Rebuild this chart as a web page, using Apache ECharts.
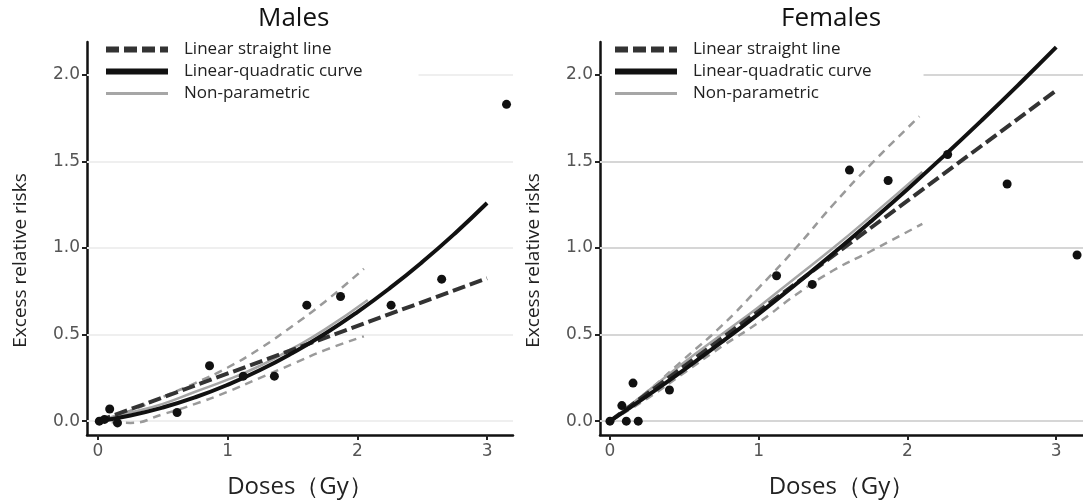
<!DOCTYPE html>
<html><head><meta charset="utf-8">
<script src="https://cdn.jsdelivr.net/npm/echarts@6.0.0/dist/echarts.min.js"></script>
<style>html,body{margin:0;padding:0;background:#fff}#c{width:1083px;height:504px}</style>
</head><body><div id="c"></div>
<script>
// ---- data ----
const panelTitles = ['Males', 'Females'];
const legendNames = ['Linear straight line', 'Linear-quadratic curve', 'Non-parametric'];
const xTicks = [0, 1, 2, 3];
const yTicks = [0, 0.5, 1.0, 1.5, 2.0];

const maleDose = [0.01, 0.05, 0.09, 0.15, 0.61, 0.86, 1.12, 1.36, 1.61, 1.87, 2.26, 2.65, 3.15];
const maleErr  = [0.0, 0.01, 0.07, -0.01, 0.05, 0.32, 0.26, 0.26, 0.67, 0.72, 0.67, 0.82, 1.83];
const femDose  = [0.0, 0.08, 0.11, 0.155, 0.19, 0.40, 1.12, 1.36, 1.61, 1.87, 2.27, 2.67, 3.14];
const femErr   = [0.0, 0.09, 0.0, 0.22, 0.0, 0.18, 0.84, 0.79, 1.45, 1.39, 1.54, 1.37, 0.96];

const lqDose   = [0, 0.25, 0.5, 0.75, 1, 1.25, 1.5, 1.75, 2, 2.25, 2.5, 2.75, 3];
const maleLQ   = [0, 0.033, 0.079, 0.138, 0.21, 0.295, 0.394, 0.505, 0.63, 0.768, 0.919, 1.083, 1.26];
const femLQ    = [0, 0.146, 0.298, 0.456, 0.62, 0.791, 0.968, 1.151, 1.34, 1.536, 1.738, 1.946, 2.16];

const linDose  = [0, 3];
const maleLin  = [0, 0.825];
const femLin   = [0, 1.91];

const maleNPDose = [0, 0.25, 0.5, 0.75, 1, 1.25, 1.5, 1.75, 2.08];
const maleNP     = [0, 0.05, 0.10, 0.17, 0.24, 0.32, 0.42, 0.53, 0.70];
const maleCIDose = [0, 0.25, 0.5, 0.75, 1, 1.25, 1.5, 1.75, 2.05];
const maleUpper  = [0, 0.06, 0.14, 0.22, 0.31, 0.42, 0.55, 0.69, 0.88];
const maleLower  = [0, -0.01, 0.04, 0.10, 0.17, 0.25, 0.33, 0.41, 0.49];

const femNPDose = [0, 0.25, 0.5, 0.75, 1, 1.25, 1.5, 1.75, 2.1];
const femNP     = [0, 0.17, 0.34, 0.50, 0.66, 0.83, 1.00, 1.18, 1.44];
const femUpDose = [0, 0.25, 0.5, 0.75, 1, 1.25, 1.5, 1.75, 2.08];
const femUpper  = [0, 0.17, 0.36, 0.55, 0.77, 1.0, 1.25, 1.48, 1.76];
const femLoDose = [0, 0.25, 0.5, 0.75, 1, 1.25, 1.5, 1.75, 2.1];
const femLower  = [0, 0.13, 0.28, 0.43, 0.57, 0.73, 0.87, 0.98, 1.14];

// ---- build ----
const zip = (xs, ys) => xs.map((x, i) => [x, ys[i]]);
const FONT = "'Open Sans', 'Noto Sans', sans-serif";
const TICKFONT = "'DejaVu Sans', sans-serif";
const chart = echarts.init(document.getElementById('c'), null, {renderer: 'canvas'});

const panels = [
  {pts: zip(maleDose, maleErr), lq: zip(lqDose, maleLQ), lin: zip(linDose, maleLin),
   np: zip(maleNPDose, maleNP), up: zip(maleCIDose, maleUpper), lo: zip(maleCIDose, maleLower),
   grid: {left: 87, right: 570, top: 42, bottom: 68}, xMin: -0.085, xMax: 3.2, gridColor: '#efefef'},
  {pts: zip(femDose, femErr), lq: zip(lqDose, femLQ), lin: zip(linDose, femLin),
   np: zip(femNPDose, femNP), up: zip(femUpDose, femUpper), lo: zip(femLoDose, femLower),
   grid: {left: 600, right: 0, top: 42, bottom: 68}, xMin: -0.067, xMax: 3.18, gridColor: '#d6d6d6'}
];

const grids = [], xAxes = [], yAxes = [], series = [], legends = [], titles = [];
panels.forEach((p, i) => {
  grids.push(p.grid);
  xAxes.push({
    type: 'value', gridIndex: i, min: p.xMin, max: p.xMax,
    axisLine: {onZero: false, lineStyle: {color: '#111', width: 2.5}},
    axisTick: {customValues: xTicks, length: 5, lineStyle: {color: '#222', width: 2}},
    axisLabel: {customValues: xTicks, fontSize: 17, color: '#555', margin: 8, fontFamily: TICKFONT},
    splitLine: {show: false},
    name: 'Doses（Gy）', nameLocation: 'middle', nameGap: 40,
    nameTextStyle: {fontSize: 24, color: '#222', fontFamily: FONT}
  });
  yAxes.push({
    type: 'value', gridIndex: i, min: -0.08, max: 2.19,
    axisLine: {show: true, onZero: false, lineStyle: {color: '#111', width: 2.5}},
    axisTick: {show: true, customValues: yTicks, length: 5, lineStyle: {color: '#222', width: 2}},
    axisLabel: {customValues: yTicks, fontSize: 17, color: '#555', margin: 7, fontFamily: TICKFONT,
                formatter: v => Number(v).toFixed(1)},
    splitLine: {show: false},
    name: 'Excess relative risks', nameLocation: 'middle', nameGap: 57,
    nameTextStyle: {fontSize: 19, color: '#222', fontFamily: FONT, padding: [0, 44, 0, 0]}
  });
  const base = {xAxisIndex: i, yAxisIndex: i, symbol: 'none', showSymbol: false, silent: true};
  // horizontal reference lines at the y tick values (drawn underneath everything)
  series.push({
    type: 'line', name: 'grid ' + i, xAxisIndex: i, yAxisIndex: i, data: [], z: 1, silent: true,
    markLine: {silent: true, symbol: 'none', label: {show: false}, animation: false, z: 1,
      lineStyle: {color: p.gridColor, width: 2, type: 'solid'},
      data: yTicks.map(v => ({yAxis: v}))}
  });
  series.push(Object.assign({}, base, {
    type: 'line', name: 'CI upper ' + i, data: p.up, smooth: true, z: 2,
    lineStyle: {color: '#9a9a9a', width: 2.5, type: [8, 6]}
  }));
  series.push(Object.assign({}, base, {
    type: 'line', name: 'CI lower ' + i, data: p.lo, smooth: true, z: 2,
    lineStyle: {color: '#9a9a9a', width: 2.5, type: [8, 6]}
  }));
  series.push(Object.assign({}, base, {
    type: 'line', name: legendNames[2], data: p.np, smooth: true, z: 3,
    lineStyle: {color: '#a6a6a6', width: 2.5}, itemStyle: {color: '#a6a6a6'}
  }));
  series.push(Object.assign({}, base, {
    type: 'line', name: legendNames[0], data: p.lin, z: 4,
    lineStyle: {color: '#333', width: 4, type: [13, 5]}, itemStyle: {color: '#333'}
  }));
  series.push(Object.assign({}, base, {
    type: 'line', name: legendNames[1], data: p.lq, smooth: true, z: 5,
    lineStyle: {color: '#111', width: 4}, itemStyle: {color: '#111'}
  }));
  series.push({
    type: 'scatter', xAxisIndex: i, yAxisIndex: i, data: p.pts, symbolSize: 9, z: 6,
    itemStyle: {color: '#111', opacity: 1}, silent: true
  });
  legends.push({
    data: [
      {name: legendNames[0], lineStyle: {width: 6}},
      {name: legendNames[1], lineStyle: {width: 6}},
      {name: legendNames[2], lineStyle: {width: 3}}
    ],
    orient: 'vertical', selectedMode: false, z: 20,
    left: i === 0 ? 89 : 602, top: 37,
    padding: i === 0 ? [4, 56, 8, 14] : [4, 52, 8, 10],
    backgroundColor: '#fff', itemWidth: 62, itemHeight: 14, itemGap: 5,
    itemStyle: {opacity: 0},
    textStyle: {fontSize: 17, color: '#222', fontFamily: FONT, padding: [0, 0, 0, 11]}
  });
});
titles.push({text: panelTitles[0], left: 258, top: 6, padding: 0,
  textStyle: {fontSize: 26, fontWeight: 'normal', color: '#111', fontFamily: FONT}});
titles.push({text: panelTitles[1], left: 781, top: 6, padding: 0,
  textStyle: {fontSize: 26, fontWeight: 'normal', color: '#111', fontFamily: FONT}});

chart.setOption({
  animation: false, backgroundColor: '#fff',
  title: titles, grid: grids, xAxis: xAxes, yAxis: yAxes, legend: legends, series: series
});
</script></body></html>
